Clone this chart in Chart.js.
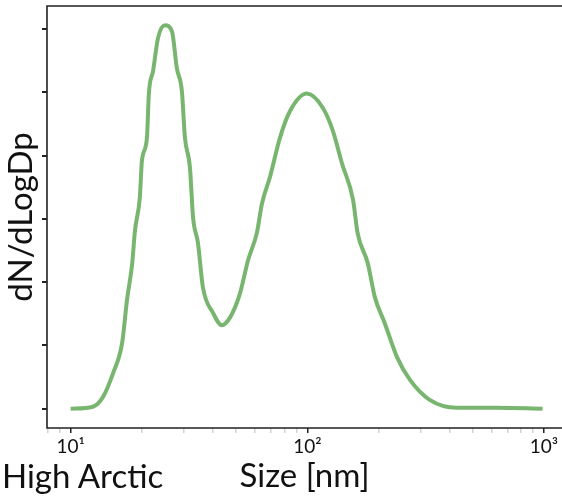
<!DOCTYPE html>
<html lang="en">
<head>
    <meta charset="UTF-8">
    <title>High Arctic size distribution</title>
    <script src="https://cdn.jsdelivr.net/npm/chart.js"></script>
    <style>
        html, body { margin: 0; padding: 0; overflow: hidden; background: #fff; font-family: 'Lato', sans-serif; }
        #wrap { position: relative; width: 562px; height: 498px; }
        #psd { display: block; }
        #site { position: absolute; left: 2px; top: 456px; font-size: 33px; line-height: 38px; color: #111; white-space: nowrap; }
    </style>
</head>
<body>
    <div id="wrap">
        <canvas id="psd" width="562" height="498"></canvas>
        <div id="site">High Arctic</div>
    </div>

    <script>
        // particle diameter (nm) and number size distribution
        const sizeNm = [10.0, 12.4, 13.7, 15.1, 16.5, 17.3, 18.2, 18.7, 19.6, 20.0,
            21.0, 21.4, 22.3, 23.4, 25.0, 26.8, 28.1, 29.5, 30.4, 31.9,
            32.9, 34.5, 36.2, 39.9, 43.5, 47.1, 51.9, 56.1, 61.2, 64.3,
            69.5, 76.6, 84.4, 99.5, 116, 128, 140, 156, 163, 180,
            193, 212, 239, 271, 329, 428, 631, 986];
        const dNdlogDp = [0, 1.6, 9.4, 28, 52, 86, 115, 141, 167, 196,
            214, 249, 267, 293, 303, 298, 269, 251, 214, 191,
            151, 131, 96, 76, 66, 72, 91, 117, 139, 162,
            183, 214, 235, 249, 238, 220, 194, 165, 139, 115,
            88, 68, 41, 23, 7, 0.8, 0.8, 0];

        const xMajorTicks = [10, 100, 1000];
        const xTickLabels = ['10\u00b9', '10\u00b2', '10\u00b3'];
        const xMinorFactors = [2, 3, 4, 5, 6, 7, 8, 9];
        const yTickValues = [0, 50, 100, 150, 200, 250, 300];

        // axes box: left, top and bottom only (right edge falls off the picture)
        const frame = {
            id: 'frame',
            afterDraw(chart) {
                const a = chart.chartArea;
                const c = chart.ctx;
                c.save();
                c.fillStyle = '#fff';
                c.fillRect(chart.width - 8, 0, 8, a.bottom + 2);
                c.strokeStyle = '#222';
                c.lineWidth = 1.6;
                c.beginPath();
                c.moveTo(chart.width, a.top);
                c.lineTo(a.left, a.top);
                c.lineTo(a.left, a.bottom);
                c.lineTo(chart.width, a.bottom);
                c.stroke();
                c.restore();
            }
        };

        const xTicks = [];
        [1, 10, 100, 1000].forEach(d => {
            xMinorFactors.forEach(f => xTicks.push({ value: d * f, major: false }));
        });
        xMajorTicks.forEach(v => xTicks.push({ value: v, major: true }));
        xTicks.sort((a, b) => a.value - b.value);

        const ctx = document.getElementById('psd').getContext('2d');
        new Chart(ctx, {
            type: 'line',
            data: {
                datasets: [{
                    data: sizeNm.map((d, i) => ({ x: d, y: dNdlogDp[i] })),
                    borderColor: '#78b66f',
                    borderWidth: 4,
                    pointRadius: 0,
                    cubicInterpolationMode: 'monotone',
                    fill: false
                }]
            },
            options: {
                responsive: false,
                animation: false,
                layout: { padding: { top: 6, right: 0, left: 0, bottom: 0 } },
                plugins: { legend: { display: false }, tooltip: { enabled: false } },
                scales: {
                    x: {
                        type: 'logarithmic',
                        min: Math.pow(10, 0.9),
                        max: Math.pow(10, 3.076),
                        afterBuildTicks: s => {
                            const inside = xTicks.filter(t => t.value > s.min && t.value < s.max);
                            s.ticks = [{ value: s.min, edge: true }, ...inside, { value: s.max, edge: true }];
                        },
                        afterFit: s => { s.height = 70; s.paddingLeft = 0; s.paddingRight = 0; },
                        border: { display: false },
                        grid: {
                            drawOnChartArea: false,
                            tickLength: 5,
                            tickColor: c => {
                                if (!c.tick || c.tick.edge) return 'transparent';
                                return c.tick.major ? '#222' : '#d4d4d4';
                            },
                            lineWidth: 1.5
                        },
                        ticks: {
                            autoSkip: false,
                            maxRotation: 0,
                            padding: 2,
                            color: '#111',
                            font: { family: 'Lato', size: 19 },
                            callback: v => {
                                const i = xMajorTicks.indexOf(v);
                                return i >= 0 ? xTickLabels[i] : '';
                            }
                        },
                        title: {
                            display: true,
                            text: 'Size [nm]',
                            color: '#111',
                            font: { family: 'Lato', size: 33 },
                            padding: { top: 0, bottom: 2 }
                        }
                    },
                    y: {
                        min: -15.2,
                        max: 318.2,
                        afterBuildTicks: s => { s.ticks = yTickValues.map(v => ({ value: v })); },
                        afterFit: s => { s.width = 47; s.paddingTop = 0; s.paddingBottom = 0; },
                        border: { display: false },
                        grid: {
                            drawOnChartArea: false,
                            tickLength: 5,
                            tickColor: '#222',
                            lineWidth: 2
                        },
                        ticks: { color: 'transparent', font: { size: 1 } },
                        title: {
                            display: true,
                            text: 'dN/dLogDp',
                            color: '#111',
                            font: { family: 'Lato', size: 33 },
                            padding: { top: 2, bottom: 0 }
                        }
                    }
                }
            },
            plugins: [frame]
        });
    </script>
</body>
</html>
